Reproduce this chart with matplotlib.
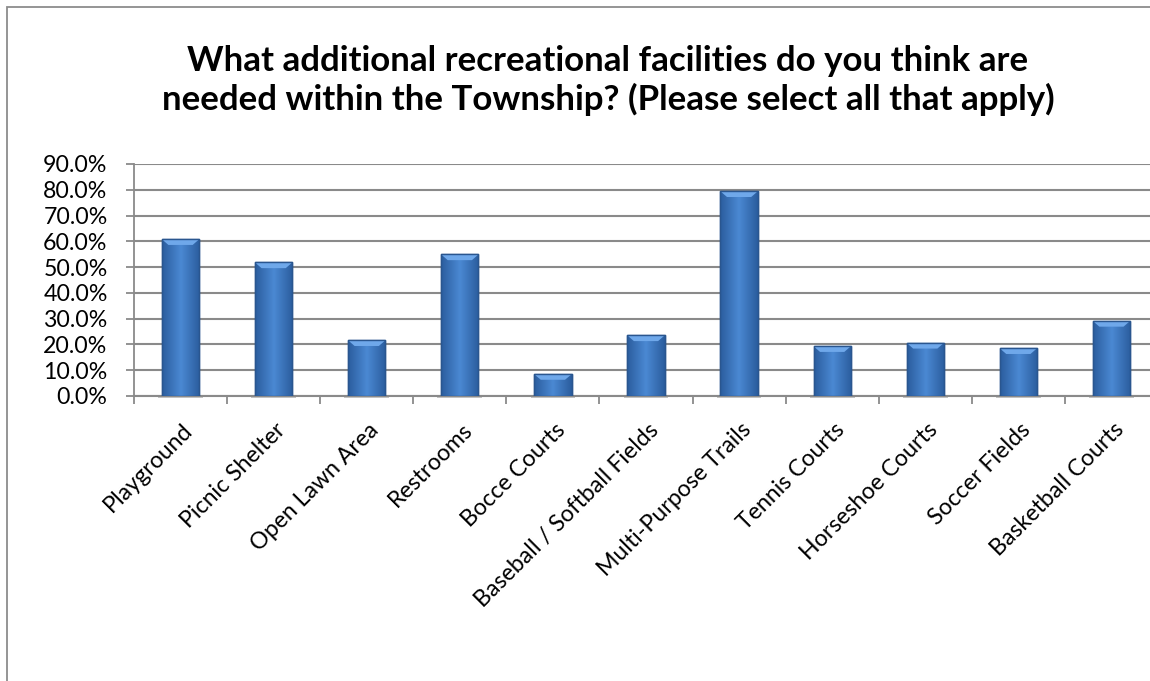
import matplotlib
matplotlib.use("Agg")
import matplotlib.pyplot as plt
import numpy as np
from matplotlib.patches import Rectangle
from matplotlib.ticker import FuncFormatter, FixedLocator
from matplotlib.transforms import ScaledTranslation

categories = ["Playground", "Picnic Shelter", "Open Lawn Area", "Restrooms",
              "Bocce Courts", "Baseball / Softball Fields", "Multi-Purpose Trails",
              "Tennis Courts", "Horseshoe Courts", "Soccer Fields", "Basketball Courts"]
values = [60.8, 51.8, 21.6, 54.9, 8.4, 23.5, 79.4, 19.3, 20.6, 18.5, 29.1]
yticks = [0, 10, 20, 30, 40, 50, 60, 70, 80, 90]
title_lines = ["What additional recreational facilities do you think are",
               "needed within the Township? (Please select all that apply)"]

plt.rcParams['font.family'] = ['Lato', 'DejaVu Sans']

W, H = 1150, 681
fig = plt.figure(figsize=(W / 100, H / 100), dpi=100)
fig.patch.set_facecolor('white')
renderer = fig.canvas.get_renderer()


def fit_width(txt, target_px):
    w = txt.get_window_extent(renderer).width
    txt.set_fontsize(txt.get_fontsize() * target_px / w)
    return txt.get_fontsize()


# chart border (cropped at right/bottom)
fig.patches.append(Rectangle((7 / W, -0.1), 1.2, 1 - 7 / H + 0.1, transform=fig.transFigure,
                             fill=False, edgecolor='#8c8c8c', linewidth=1.3))

left, right, top, bottom = 134, 1158, 164, 396
ax = fig.add_axes([left / W, 1 - bottom / H, (right - left) / W, (bottom - top) / H])
ax.set_xlim(-0.5, len(categories) - 0.5)
ax.set_ylim(0, 90)

fmt = lambda v, p=None: f"{v:.1f}%"
tmp = fig.text(0, 0, fmt(yticks[0]), fontsize=16)
lab_fs = fit_width(tmp, 51)
tmp.remove()

x = np.arange(len(categories))
grid_color = '#8a8a8a'
ax.yaxis.set_major_locator(FixedLocator(yticks))
ax.yaxis.set_major_formatter(FuncFormatter(fmt))
ax.grid(axis='y', color=grid_color, linewidth=1.5, zorder=0)
ax.set_axisbelow(True)
for s in ['top', 'right']:
    ax.spines[s].set_visible(False)
ax.spines['left'].set_color(grid_color)
ax.spines['bottom'].set_color(grid_color)
ax.spines['left'].set_linewidth(1.3)
ax.spines['bottom'].set_linewidth(1.5)
ax.tick_params(axis='y', length=6, color=grid_color, width=1.3, labelsize=lab_fs,
               pad=13, labelcolor='black')

ax.set_xticks(np.arange(-0.5, len(categories) + 0.5, 1.0))
ax.set_xticklabels([])
ax.tick_params(axis='x', length=6, color=grid_color, width=1.3)
ax.set_xticks(x, minor=True)
ax.set_xticklabels(categories, minor=True, rotation=45, ha='right', va='center',
                   rotation_mode='anchor', fontsize=lab_fs)
ax.tick_params(axis='x', which='minor', length=0, pad=22)
shift = ScaledTranslation(9 / 100, 0, fig.dpi_scale_trans)
for lbl in ax.get_xticklabels(minor=True):
    lbl.set_transform(lbl.get_transform() + shift)

bar_w = 0.4
bars = ax.bar(x, values, width=bar_w, color='#3a74bf', edgecolor='#2a568f', linewidth=1.0, zorder=3)
grad = np.linspace(0, 1, 64)
prof = 1 - np.abs(grad - 0.5) * 2
cmap = matplotlib.colors.LinearSegmentedColormap.from_list('b', ['#2b5d9e', '#4a88d2'])
for b, v in zip(bars, values):
    x0 = b.get_x(); w = b.get_width()
    im = ax.imshow(prof[np.newaxis, :], extent=[x0, x0 + w, 0, v], aspect='auto',
                   cmap=cmap, zorder=3.5, interpolation='bicubic')
    im.set_clip_path(b)
    cap = min(2.2, v * 0.25)
    ax.fill([x0, x0 + w, x0 + w - 0.07, x0 + 0.07], [v, v, v - cap, v - cap],
            color='#6fa8ea', zorder=4, linewidth=0)
    ax.bar(b.get_x() + w / 2, 0.7, width=w * 1.2, bottom=-0.7, color='#c4c4c4', zorder=2,
           clip_on=False)
    ax.plot([x0, x0 + w, x0 + w, x0, x0], [0, 0, v, v, 0], color='#2a568f', lw=1.0, zorder=5)

cx = 608 / W
t2 = fig.text(cx, 1 - 110 / H, title_lines[1], ha='center', va='baseline',
              fontsize=22, fontweight='bold')
tfs = fit_width(t2, 893)
t1 = fig.text(cx, 1 - 71 / H, title_lines[0], ha='center', va='baseline',
              fontsize=tfs, fontweight='bold')

fig.savefig('out.png', dpi=100)
